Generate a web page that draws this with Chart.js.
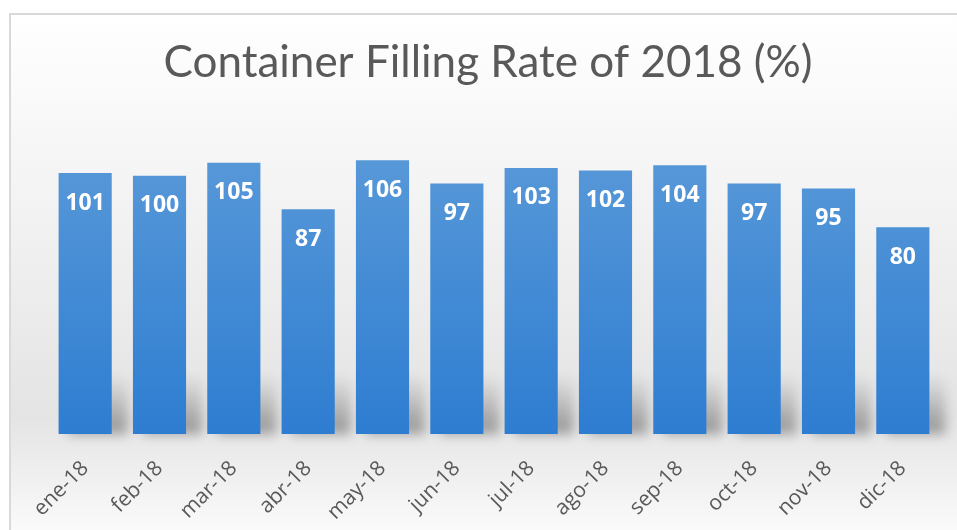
<!DOCTYPE html>
<html>
<head>
<meta charset="utf-8">
<script src="https://cdn.jsdelivr.net/npm/chart.js@4"></script>
<style>
  html, body { margin: 0; padding: 0; background: #fff; }
  #wrap { position: relative; width: 957px; height: 530px; }
</style>
</head>
<body>
<div id="wrap"><canvas id="grafico" width="957" height="530"></canvas></div>
<script>
const titulo = "Container Filling Rate of 2018 (%)";
const meses = ["ene-18", "feb-18", "mar-18", "abr-18", "may-18", "jun-18",
  "jul-18", "ago-18", "sep-18", "oct-18", "nov-18", "dic-18"];
const tasa = [101, 100, 105, 87, 106, 97, 103, 102, 104, 97, 95, 80];

// fondo con marco, degradado gris y título
const fondo = {
  id: "fondo",
  beforeDraw(chart) {
    const ctx = chart.ctx;
    ctx.save();
    const g = ctx.createLinearGradient(0, 13, 0, 530);
    g.addColorStop(0, "#ffffff");
    g.addColorStop(0.45, "#f0f0f0");
    g.addColorStop(0.78, "#e4e4e4");
    g.addColorStop(1, "#fafafa");
    ctx.fillStyle = g;
    ctx.fillRect(10, 14, 957, 530);
    ctx.strokeStyle = "#d9d9d9";
    ctx.lineWidth = 2;
    ctx.strokeRect(10, 14, 960, 540);
    // título (centrado sobre el marco)
    ctx.fillStyle = "#595959";
    ctx.font = "44px Lato";
    ctx.textAlign = "center";
    ctx.textBaseline = "middle";
    ctx.fillText(titulo, 488, 63);
    ctx.restore();
  }
};

// sombra difusa al pie de cada barra
const sombra = {
  id: "sombra",
  beforeDatasetsDraw(chart) {
    const ctx = chart.ctx;
    const base = chart.chartArea.bottom;
    ctx.save();
    ctx.filter = "blur(6px)";
    chart.getDatasetMeta(0).data.forEach(bar => {
      const w = bar.width;
      const g = ctx.createLinearGradient(0, base - 60, 0, base);
      g.addColorStop(0, "rgba(0,0,0,0)");
      g.addColorStop(1, "rgba(0,0,0,0.35)");
      ctx.fillStyle = g;
      ctx.fillRect(bar.x - w / 2 + 10, base - 60, w + 6, 60);
    });
    ctx.restore();
  }
};

// etiquetas de valor dentro de la barra
const etiquetas = {
  id: "etiquetas",
  afterDatasetsDraw(chart) {
    const ctx = chart.ctx;
    ctx.save();
    ctx.fillStyle = "#ffffff";
    ctx.font = "bold 23px 'Open Sans'";
    ctx.textAlign = "center";
    ctx.textBaseline = "middle";
    chart.getDatasetMeta(0).data.forEach((bar, i) => {
      ctx.fillText(String(tasa[i]), bar.x, bar.y + 30);
    });
    ctx.restore();
  }
};

const config = {
  type: "bar",
  data: {
    labels: meses,
    datasets: [
      {
        label: titulo,
        data: tasa,
        borderWidth: 0,
        backgroundColor: (c) => {
          const area = c.chart.chartArea;
          if (!area) return "#3f88d4";
          const g = c.chart.ctx.createLinearGradient(0, area.top, 0, area.bottom);
          g.addColorStop(0, "#5c9bd9");
          g.addColorStop(1, "#2e7dd1");
          return g;
        },
        barPercentage: 0.715,
        categoryPercentage: 1,
      },
    ],
  },
  options: {
    responsive: false,
    animation: false,
    layout: { padding: { top: 124, left: 48, right: 17, bottom: 0 } },
    plugins: {
      legend: { display: false },
      tooltip: { enabled: false },
      title: { display: false },
    },
    scales: {
      x: {
        grid: { display: false, drawTicks: false },
        border: { display: false },
        afterFit: (scale) => { scale.height = 96; },
        ticks: {
          color: "#595959",
          font: { family: "Open Sans", size: 21 },
          minRotation: 45,
          maxRotation: 45,
          padding: 22,
        },
      },
      y: {
        display: false,
        min: 0,
        max: 120,
      },
    },
  },
  plugins: [fondo, sombra, etiquetas],
};

const myChart = new Chart(document.getElementById("grafico"), config);
</script>
</body>
</html>
